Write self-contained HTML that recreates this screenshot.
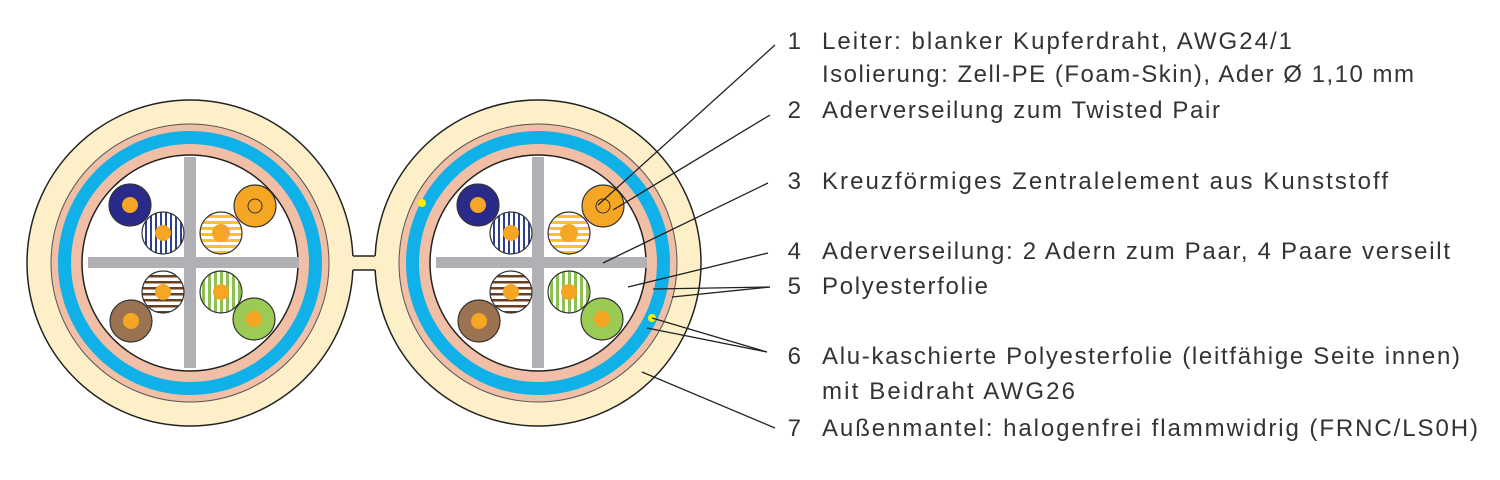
<!DOCTYPE html>
<html><head><meta charset="utf-8"><style>
html,body{margin:0;padding:0;background:#fff;}
svg{display:block;}
text{font-family:"Liberation Sans",sans-serif;font-size:24px;fill:#333;}
</style></head><body>
<svg width="1500" height="480" viewBox="0 0 1500 480" xmlns="http://www.w3.org/2000/svg">
<defs>
<pattern id="pb" width="5" height="5" patternUnits="userSpaceOnUse"><rect width="5" height="5" fill="#fff"/><rect width="2" height="5" fill="#2d3f8f"/></pattern>
<pattern id="py" width="6" height="6" patternUnits="userSpaceOnUse"><rect width="6" height="6" fill="#fff"/><rect width="6" height="3" fill="#f7c234"/></pattern>
<pattern id="pbr" width="6" height="6" patternUnits="userSpaceOnUse"><rect width="6" height="6" fill="#fff"/><rect width="6" height="2.5" fill="#6b4020"/></pattern>
<pattern id="pg" width="6" height="6" patternUnits="userSpaceOnUse"><rect width="6" height="6" fill="#fff"/><rect width="3" height="6" fill="#8cc152"/></pattern>
<g id="cable">
<circle r="163" fill="#fdf0c8" stroke="#222" stroke-width="1.5"/>
<circle r="139" fill="#f0bfa5" stroke="#555" stroke-width="1"/>
<circle r="132" fill="#10b0e8"/>
<circle r="119" fill="#f0bfa5"/>
<circle r="108" fill="#fff" stroke="#222" stroke-width="1.5"/>
<rect x="-6" y="-106" width="12" height="211" fill="#b0b0b5"/>
<rect x="-102" y="-6" width="211" height="11" fill="#b0b0b5"/>
<circle cx="-60" cy="-58" r="21" fill="#2a2a8a" stroke="#333" stroke-width="1.2"/><circle cx="-60" cy="-58" r="8" fill="#f5a623"/>
<circle cx="-27" cy="-30" r="21" fill="url(#pb)" stroke="#333" stroke-width="1.2"/><circle cx="-27" cy="-30" r="8" fill="#f5a623"/>
<circle cx="31" cy="-30" r="21" fill="url(#py)" stroke="#333" stroke-width="1.2"/><circle cx="31" cy="-30" r="9" fill="#f5a623"/>
<circle cx="65" cy="-57" r="21" fill="#f5a623" stroke="#333" stroke-width="1.2"/><circle cx="65" cy="-57" r="7" fill="none" stroke="#333" stroke-width="1"/>
<circle cx="-27" cy="29" r="21" fill="url(#pbr)" stroke="#333" stroke-width="1.2"/><circle cx="-27" cy="29" r="8" fill="#f5a623"/>
<circle cx="-59" cy="58" r="21" fill="#9c7350" stroke="#333" stroke-width="1.2"/><circle cx="-59" cy="58" r="8" fill="#f5a623"/>
<circle cx="31" cy="29" r="21" fill="url(#pg)" stroke="#333" stroke-width="1.2"/><circle cx="31" cy="29" r="8" fill="#f5a623"/>
<circle cx="64" cy="56" r="21" fill="#9ccb55" stroke="#333" stroke-width="1.2"/><circle cx="64" cy="56" r="8" fill="#f5a623"/>
</g>
</defs>
<use href="#cable" x="190" y="263"/>
<use href="#cable" x="538" y="263"/>
<rect x="352" y="256" width="24" height="14" fill="#fdf0c8"/>
<line x1="353" y1="256" x2="375" y2="256" stroke="#222" stroke-width="1.5"/>
<line x1="353" y1="270" x2="375" y2="270" stroke="#222" stroke-width="1.5"/>
<circle cx="422" cy="203" r="4" fill="#f5f000"/>
<circle cx="652" cy="318" r="4" fill="#f5f000"/>
<g stroke="#222" stroke-width="1.3" fill="none">
<line x1="775" y1="45" x2="598" y2="205"/>
<line x1="770" y1="115" x2="613" y2="210"/>
<line x1="768" y1="183" x2="603" y2="263"/>
<line x1="768" y1="253" x2="628" y2="287"/>
<line x1="770" y1="287" x2="653" y2="289"/>
<line x1="770" y1="287" x2="672" y2="297"/>
<line x1="767" y1="352" x2="652" y2="318"/>
<line x1="767" y1="352" x2="647" y2="328"/>
<line x1="775" y1="428" x2="642" y2="372"/>
</g>
<g text-anchor="end">
<text x="801" y="49">1</text>
<text x="801" y="118">2</text>
<text x="801" y="189">3</text>
<text x="801" y="259">4</text>
<text x="801" y="294">5</text>
<text x="801" y="364">6</text>
<text x="801" y="436">7</text>
</g>
<text x="822" y="49" textLength="470" lengthAdjust="spacing">Leiter: blanker Kupferdraht, AWG24/1</text>
<text x="822" y="82" textLength="592" lengthAdjust="spacing">Isolierung: Zell-PE (Foam-Skin), Ader Ø 1,10 mm</text>
<text x="822" y="118" textLength="398" lengthAdjust="spacing">Aderverseilung zum Twisted Pair</text>
<text x="822" y="189" textLength="566" lengthAdjust="spacing">Kreuzförmiges Zentralelement aus Kunststoff</text>
<text x="822" y="259" textLength="628" lengthAdjust="spacing">Aderverseilung: 2 Adern zum Paar, 4 Paare verseilt</text>
<text x="822" y="294" textLength="166" lengthAdjust="spacing">Polyesterfolie</text>
<text x="822" y="364" textLength="638" lengthAdjust="spacing">Alu-kaschierte Polyesterfolie (leitfähige Seite innen)</text>
<text x="822" y="399" textLength="253" lengthAdjust="spacing">mit Beidraht AWG26</text>
<text x="822" y="436" textLength="656" lengthAdjust="spacing">Außenmantel: halogenfrei flammwidrig (FRNC/LS0H)</text>
</svg>
</body></html>
